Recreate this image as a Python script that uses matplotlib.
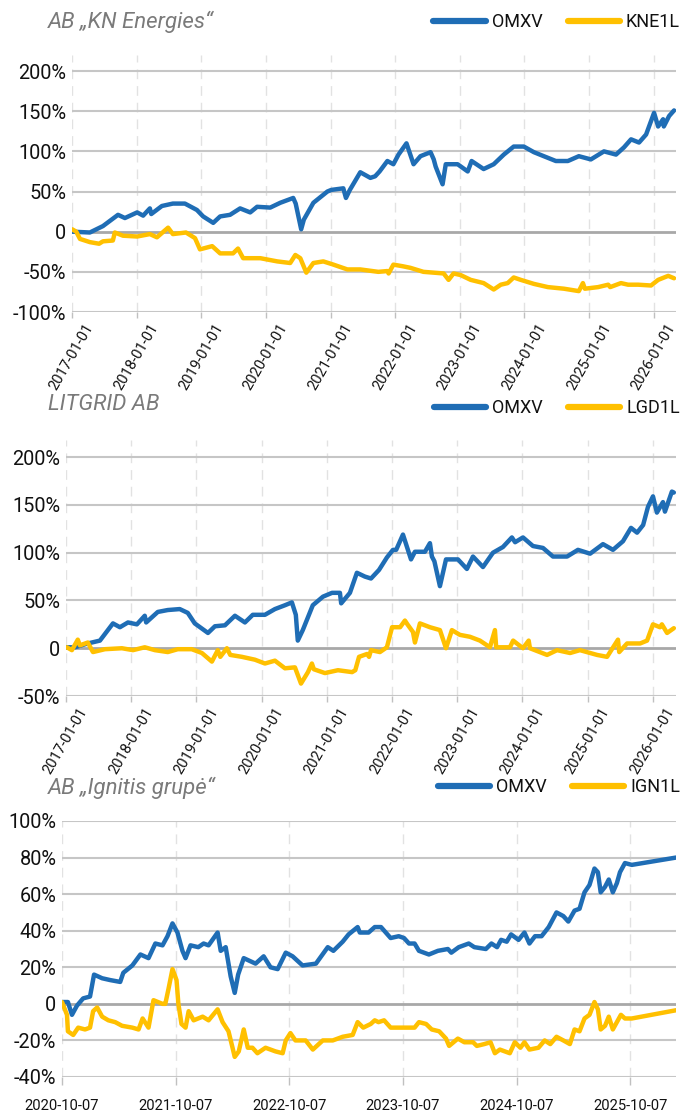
import matplotlib
matplotlib.use('Agg')
import matplotlib.pyplot as plt
import pandas as pd

plt.rcParams['font.family'] = ['Roboto', 'DejaVu Sans']

BLUE = '#1f6db5'
GOLD = '#ffc000'

# --- AB "KN Energies" ---
kn_omxv = [
    ('2017-01-02', 0), ('2017-04-12', -1), ('2017-06-25', 7), ('2017-09-18', 21),
    ('2017-10-27', 17), ('2018-01-04', 24), ('2018-02-07', 20), ('2018-03-17', 29),
    ('2018-03-25', 22), ('2018-05-24', 32), ('2018-07-25', 35), ('2018-10-01', 35),
    ('2018-12-08', 27), ('2019-01-12', 19), ('2019-03-10', 11), ('2019-04-18', 19),
    ('2019-06-13', 21), ('2019-08-09', 29), ('2019-10-05', 24), ('2019-11-13', 31),
    ('2020-01-26', 30), ('2020-03-23', 36), ('2020-06-04', 42), ('2020-06-18', 35),
    ('2020-07-19', 3), ('2020-08-03', 15), ('2020-09-26', 36), ('2020-12-14', 50),
    ('2021-01-05', 52), ('2021-03-14', 54), ('2021-03-29', 42), ('2021-04-20', 52),
    ('2021-06-18', 74), ('2021-08-14', 67), ('2021-09-10', 69), ('2021-10-05', 75),
    ('2021-11-18', 88), ('2021-12-22', 84), ('2022-01-20', 96), ('2022-03-06', 110),
    ('2022-04-15', 84), ('2022-05-24', 94), ('2022-07-20', 99), ('2022-08-07', 90),
    ('2022-08-18', 81), ('2022-09-26', 59), ('2022-10-14', 84), ('2022-12-20', 84),
    ('2023-02-15', 75), ('2023-03-09', 88), ('2023-05-16', 78), ('2023-07-12', 84),
    ('2023-09-07', 96), ('2023-11-02', 106), ('2023-12-29', 106), ('2024-02-24', 99),
    ('2024-04-20', 94), ('2024-06-27', 88), ('2024-09-03', 88), ('2024-11-04', 94),
    ('2025-01-11', 90), ('2025-03-26', 100), ('2025-06-02', 96), ('2025-07-17', 105),
    ('2025-08-26', 115), ('2025-10-10', 111), ('2025-11-19', 121), ('2026-01-03', 148),
    ('2026-01-26', 131), ('2026-02-23', 140), ('2026-02-27', 131), ('2026-03-29', 144),
    ('2026-04-26', 151),
]
kn_kne1l = [
    ('2017-01-02', 3), ('2017-01-25', 0), ('2017-02-15', -9), ('2017-04-12', -13),
    ('2017-06-03', -15), ('2017-06-25', -12), ('2017-08-20', -11), ('2017-08-31', -1),
    ('2017-10-16', -5), ('2018-01-04', -6), ('2018-03-17', -3), ('2018-04-26', -7),
    ('2018-06-28', 5), ('2018-07-25', -3), ('2018-10-07', -1), ('2018-11-27', -8),
    ('2018-12-25', -22), ('2019-03-04', -18), ('2019-04-18', -27), ('2019-06-30', -27),
    ('2019-07-28', -21), ('2019-08-26', -33), ('2019-12-01', -33), ('2020-03-06', -37),
    ('2020-05-18', -39), ('2020-06-16', -29), ('2020-07-14', -33), ('2020-08-17', -51),
    ('2020-09-26', -39), ('2020-11-21', -37), ('2021-01-17', -41), ('2021-04-06', -47),
    ('2021-06-18', -47), ('2021-09-28', -50), ('2021-11-18', -49), ('2021-11-25', -52),
    ('2021-12-22', -41), ('2022-02-12', -43), ('2022-03-28', -45), ('2022-06-10', -50),
    ('2022-10-02', -52), ('2022-10-30', -60), ('2022-11-27', -52), ('2023-01-06', -54),
    ('2023-03-04', -60), ('2023-05-16', -64), ('2023-07-12', -72), ('2023-08-21', -66),
    ('2023-09-29', -64), ('2023-11-02', -57), ('2023-12-12', -60), ('2024-02-24', -65),
    ('2024-05-13', -69), ('2024-08-12', -71), ('2024-11-04', -74), ('2024-11-27', -64),
    ('2024-12-08', -71), ('2025-02-21', -69), ('2025-04-19', -66), ('2025-04-30', -69),
    ('2025-06-30', -64), ('2025-08-09', -66), ('2025-10-05', -66), ('2025-12-17', -67),
    ('2026-01-26', -60), ('2026-03-24', -55), ('2026-04-26', -58),
]

# --- LITGRID AB ---
lg_omxv = [
    ('2017-01-06', 1), ('2017-02-20', 1), ('2017-05-03', 5), ('2017-07-10', 8),
    ('2017-09-21', 26), ('2017-10-30', 22), ('2017-12-14', 27), ('2018-02-02', 25),
    ('2018-03-18', 34), ('2018-03-26', 27), ('2018-05-30', 38), ('2018-07-25', 40),
    ('2018-09-30', 41), ('2018-11-14', 37), ('2018-12-23', 26), ('2019-03-07', 16),
    ('2019-04-15', 23), ('2019-06-10', 24), ('2019-08-05', 34), ('2019-09-30', 27),
    ('2019-11-13', 35), ('2020-01-20', 35), ('2020-03-16', 41), ('2020-05-11', 45),
    ('2020-06-19', 48), ('2020-07-11', 35), ('2020-07-22', 8), ('2020-08-19', 19),
    ('2020-10-14', 45), ('2020-12-10', 54), ('2021-01-30', 58), ('2021-03-15', 58),
    ('2021-03-22', 47), ('2021-05-10', 58), ('2021-06-18', 79), ('2021-08-02', 75),
    ('2021-09-05', 73), ('2021-10-20', 82), ('2021-12-03', 95), ('2022-01-06', 103),
    ('2022-01-24', 103), ('2022-03-03', 119), ('2022-04-17', 93), ('2022-05-09', 101),
    ('2022-07-04', 101), ('2022-08-01', 110), ('2022-08-12', 96), ('2022-08-26', 91),
    ('2022-09-26', 65), ('2022-10-30', 93), ('2023-01-05', 93), ('2023-02-24', 83),
    ('2023-03-30', 96), ('2023-05-25', 85), ('2023-07-20', 100), ('2023-09-14', 106),
    ('2023-11-03', 116), ('2023-11-21', 111), ('2024-01-04', 116), ('2024-02-29', 107),
    ('2024-04-25', 105), ('2024-06-20', 96), ('2024-09-07', 96), ('2024-11-07', 103),
    ('2025-01-14', 99), ('2025-03-27', 109), ('2025-05-22', 103), ('2025-07-17', 112),
    ('2025-08-31', 126), ('2025-10-04', 121), ('2025-11-07', 129), ('2025-12-04', 148),
    ('2026-01-01', 159), ('2026-01-23', 142), ('2026-02-26', 153), ('2026-03-09', 143),
    ('2026-04-17', 164), ('2026-04-28', 163),
]
lg_lgd1l = [
    ('2017-01-06', 1), ('2017-02-03', -2), ('2017-03-08', 9), ('2017-03-20', 3),
    ('2017-05-03', 6), ('2017-06-01', -4), ('2017-08-07', -1), ('2017-11-10', 0),
    ('2018-01-11', -2), ('2018-03-18', 1), ('2018-05-14', -2), ('2018-07-25', -4),
    ('2018-09-19', -1), ('2018-12-06', -1), ('2019-02-01', -5), ('2019-03-29', -14),
    ('2019-05-01', -2), ('2019-05-15', -9), ('2019-06-21', 0), ('2019-07-10', -7),
    ('2019-09-13', -9), ('2019-11-25', -12), ('2020-01-20', -16), ('2020-03-16', -13),
    ('2020-05-11', -21), ('2020-07-06', -20), ('2020-08-09', -37), ('2020-09-17', -25),
    ('2020-10-09', -16), ('2020-10-20', -22), ('2020-12-21', -26), ('2021-03-04', -23),
    ('2021-05-22', -25), ('2021-06-09', -23), ('2021-06-30', -9), ('2021-08-14', -6),
    ('2021-08-25', -9), ('2021-09-05', -2), ('2021-10-25', -4), ('2021-12-03', 1),
    ('2022-01-01', 22), ('2022-02-15', 22), ('2022-03-14', 29), ('2022-03-28', 25),
    ('2022-04-28', 17), ('2022-05-09', 6), ('2022-06-06', 26), ('2022-08-01', 22),
    ('2022-09-26', 19), ('2022-10-30', 0), ('2022-12-02', 19), ('2023-01-16', 14),
    ('2023-03-13', 12), ('2023-05-08', 8), ('2023-07-03', 1), ('2023-07-31', 19),
    ('2023-08-07', 1), ('2023-10-23', 1), ('2023-11-10', 8), ('2024-01-04', 0),
    ('2024-02-05', 8), ('2024-02-12', 0), ('2024-05-18', -7), ('2024-07-13', -2),
    ('2024-09-24', -5), ('2024-11-18', -2), ('2025-02-22', -7), ('2025-04-19', -9),
    ('2025-06-19', 9), ('2025-06-26', -4), ('2025-08-09', 5), ('2025-10-21', 5),
    ('2025-11-29', 8), ('2026-01-01', 25), ('2026-02-09', 22), ('2026-02-20', 25),
    ('2026-03-21', 16), ('2026-04-28', 21),
]

# --- AB "Ignitis grupe" ---
ig_omxv = [
    ('2020-10-07', 1), ('2020-10-26', 1), ('2020-11-08', -6), ('2020-11-24', -1),
    ('2020-12-14', 3), ('2021-01-05', 4), ('2021-01-18', 16), ('2021-02-13', 14),
    ('2021-03-11', 13), ('2021-04-12', 12), ('2021-04-22', 17), ('2021-05-21', 21),
    ('2021-06-16', 27), ('2021-07-12', 25), ('2021-08-03', 33), ('2021-08-26', 32),
    ('2021-09-11', 37), ('2021-09-27', 44), ('2021-10-13', 39), ('2021-10-29', 29),
    ('2021-11-08', 25), ('2021-11-24', 32), ('2021-12-19', 31), ('2022-01-05', 33),
    ('2022-01-21', 32), ('2022-02-19', 39), ('2022-03-01', 29), ('2022-03-17', 31),
    ('2022-04-02', 15), ('2022-04-15', 6), ('2022-04-26', 16), ('2022-05-14', 25),
    ('2022-06-21', 22), ('2022-07-17', 26), ('2022-08-08', 20), ('2022-08-31', 19),
    ('2022-09-26', 28), ('2022-10-18', 26), ('2022-11-19', 21), ('2023-01-01', 22),
    ('2023-02-08', 31), ('2023-02-26', 29), ('2023-03-28', 34), ('2023-04-16', 38),
    ('2023-05-15', 42), ('2023-05-22', 39), ('2023-06-19', 39), ('2023-07-09', 42),
    ('2023-07-29', 42), ('2023-08-29', 36), ('2023-09-24', 37), ('2023-10-11', 36),
    ('2023-10-27', 33), ('2023-11-14', 33), ('2023-11-28', 29), ('2023-12-30', 27),
    ('2024-01-28', 29), ('2024-02-29', 30), ('2024-03-11', 28), ('2024-04-04', 31),
    ('2024-05-06', 33), ('2024-05-24', 31), ('2024-06-30', 30), ('2024-07-18', 33),
    ('2024-08-05', 31), ('2024-08-18', 35), ('2024-09-05', 34), ('2024-09-19', 38),
    ('2024-10-13', 35), ('2024-11-01', 39), ('2024-11-17', 33), ('2024-12-05', 37),
    ('2024-12-26', 37), ('2025-01-18', 42), ('2025-02-12', 50), ('2025-03-06', 48),
    ('2025-03-22', 45), ('2025-04-11', 51), ('2025-04-27', 52), ('2025-05-13', 61),
    ('2025-05-29', 65), ('2025-06-14', 74), ('2025-06-25', 72), ('2025-07-04', 61),
    ('2025-07-18', 64), ('2025-07-30', 68), ('2025-08-12', 61), ('2025-08-25', 66),
    ('2025-09-04', 72), ('2025-09-20', 77), ('2025-10-12', 76), ('2026-03-03', 80),
]
ig_ign1l = [
    ('2020-10-07', 1), ('2020-10-23', -6), ('2020-10-26', -15), ('2020-11-12', -17),
    ('2020-11-28', -13), ('2020-12-20', -14), ('2021-01-05', -13), ('2021-01-15', -4),
    ('2021-01-28', -2), ('2021-02-13', -7), ('2021-03-05', -9), ('2021-03-27', -10),
    ('2021-04-18', -12), ('2021-05-21', -13), ('2021-06-10', -14), ('2021-06-23', -8),
    ('2021-07-12', -13), ('2021-07-28', 2), ('2021-08-26', 0), ('2021-09-04', 0),
    ('2021-09-14', 8), ('2021-09-27', 19), ('2021-10-10', 13), ('2021-10-16', 0),
    ('2021-10-26', -11), ('2021-11-08', -13), ('2021-11-18', -4), ('2021-12-04', -9),
    ('2022-01-02', -7), ('2022-01-21', -9), ('2022-02-19', -3), ('2022-03-07', -10),
    ('2022-03-26', -15), ('2022-04-08', -24), ('2022-04-15', -29), ('2022-04-28', -26),
    ('2022-05-14', -14), ('2022-05-27', -24), ('2022-06-11', -24), ('2022-06-27', -27),
    ('2022-07-23', -24), ('2022-08-24', -26), ('2022-09-16', -27), ('2022-09-26', -20),
    ('2022-10-11', -16), ('2022-10-27', -20), ('2022-11-29', -20), ('2022-12-22', -25),
    ('2023-01-23', -20), ('2023-02-24', -20), ('2023-03-28', -18), ('2023-04-29', -17),
    ('2023-05-15', -10), ('2023-06-02', -13), ('2023-06-26', -11), ('2023-07-09', -9),
    ('2023-07-21', -10), ('2023-08-08', -9), ('2023-08-29', -13), ('2023-10-11', -13),
    ('2023-11-14', -13), ('2023-11-28', -10), ('2023-12-21', -11), ('2024-01-08', -14),
    ('2024-02-01', -15), ('2024-02-23', -19), ('2024-03-04', -23), ('2024-04-01', -19),
    ('2024-04-22', -21), ('2024-05-20', -21), ('2024-06-01', -23), ('2024-06-25', -22),
    ('2024-07-15', -21), ('2024-07-29', -27), ('2024-08-14', -25), ('2024-08-30', -26),
    ('2024-09-15', -27), ('2024-10-01', -21), ('2024-10-19', -24), ('2024-11-01', -21),
    ('2024-11-17', -25), ('2024-12-16', -24), ('2025-01-05', -20), ('2025-01-23', -22),
    ('2025-02-12', -18), ('2025-03-06', -20), ('2025-03-27', -22), ('2025-04-11', -14),
    ('2025-04-27', -15), ('2025-05-13', -8), ('2025-05-29', -6), ('2025-06-14', 1),
    ('2025-06-25', -3), ('2025-07-04', -14), ('2025-07-18', -12), ('2025-07-30', -7),
    ('2025-08-12', -14), ('2025-08-25', -10), ('2025-09-07', -6), ('2025-09-20', -8),
    ('2025-10-12', -8), ('2026-03-03', -3.5),
]

yearly_ticks = ['2017-01-01', '2018-01-01', '2019-01-01', '2020-01-01', '2021-01-01',
                '2022-01-01', '2023-01-01', '2024-01-01', '2025-01-01', '2026-01-01']
ign_ticks = ['2020-10-07', '2021-10-07', '2022-10-07', '2023-10-07', '2024-10-07',
             '2025-10-07']

W, H = 688, 1117
fig = plt.figure(figsize=(W / 100, H / 100), dpi=100)


def pct(v):
    return '0' if v == 0 else f'{v:.0f}%'


def panel(rect, title, title_y, s1, s2, labels, ticks, xlim, yticks, ylim,
          rotate, leg_y):
    l, t, r, b = rect
    ax = fig.add_axes([l / W, 1 - b / H, (r - l) / W, (b - t) / H])
    for data, color, lab in ((s1, BLUE, labels[0]), (s2, GOLD, labels[1])):
        d = pd.DataFrame(data, columns=['date', 'val'])
        d['date'] = pd.to_datetime(d['date'])
        ax.plot(d['date'], d['val'], color=color, lw=3.2, label=lab,
                solid_joinstyle='round', solid_capstyle='round', zorder=3)
    ax.set_xlim(pd.Timestamp(xlim[0]), pd.Timestamp(xlim[1]))
    ax.set_ylim(*ylim)
    ax.set_yticks(yticks)
    ax.set_yticklabels([pct(v) for v in yticks], fontsize=14.3, color='#111111')
    tick_dates = pd.to_datetime(ticks)
    ax.set_xticks(tick_dates)
    ax.set_xticklabels(ticks, fontsize=10.6, color='#111111')
    for s in ax.spines.values():
        s.set_visible(False)
    for v in yticks:
        ax.axhline(v, color='#a8a8a8' if v == 0 else '#c6c6c6',
                   lw=2.0 if v == 0 else 1.5, zorder=1)
    for xd in tick_dates:
        ax.axvline(xd, color='#e2e2e2', lw=1.0, ls=(0, (7, 5)), zorder=0)
    ax.tick_params(axis='y', length=0, pad=4)
    if rotate:
        ax.tick_params(axis='x', length=4.5, width=1, color='#c0c0c0', pad=2)
        plt.setp(ax.get_xticklabels(), rotation=60, ha='center', va='top')
    else:
        ax.tick_params(axis='x', length=6, width=1, color='#c0c0c0', pad=10)
    leg = ax.legend(loc='center right', bbox_to_anchor=(1.0066, leg_y), ncol=2,
                    frameon=False, fontsize=13, handlelength=2.9,
                    handletextpad=0.33, columnspacing=1.4, borderaxespad=0,
                    borderpad=0)
    for ln in leg.get_lines():
        ln.set_linewidth(4.5)
        ln.set_solid_capstyle('round')
    for txt in leg.get_texts():
        txt.set_color('#111111')
    fig.text(48 / W, 1 - title_y / H, title, fontsize=16, style='italic',
             color='#7a7a7a', va='center', ha='left')
    return ax


panel((72, 55, 676, 312), 'AB „KN Energies“', 22, kn_omxv, kn_kne1l,
      ('OMXV', 'KNE1L'), yearly_ticks, ('2017-01-01', '2026-05-07'),
      [-100, -50, 0, 50, 100, 150, 200], (-100, 220), True, 1.128)
panel((66, 440, 676, 696), 'LITGRID AB', 405, lg_omxv, lg_lgd1l,
      ('OMXV', 'LGD1L'), yearly_ticks, ('2017-01-01', '2026-05-10'),
      [-50, 0, 50, 100, 150, 200], (-50, 218), True, 1.125)
panel((62, 821, 676, 1077), 'AB „Ignitis grupė“', 788, ig_omxv, ig_ign1l,
      ('OMXV', 'IGN1L'), ign_ticks, ('2020-10-07', '2026-03-03'),
      [-40, -20, 0, 20, 40, 60, 80, 100], (-40, 100), False, 1.133)

fig.savefig('out.png', dpi=100, facecolor='white')
